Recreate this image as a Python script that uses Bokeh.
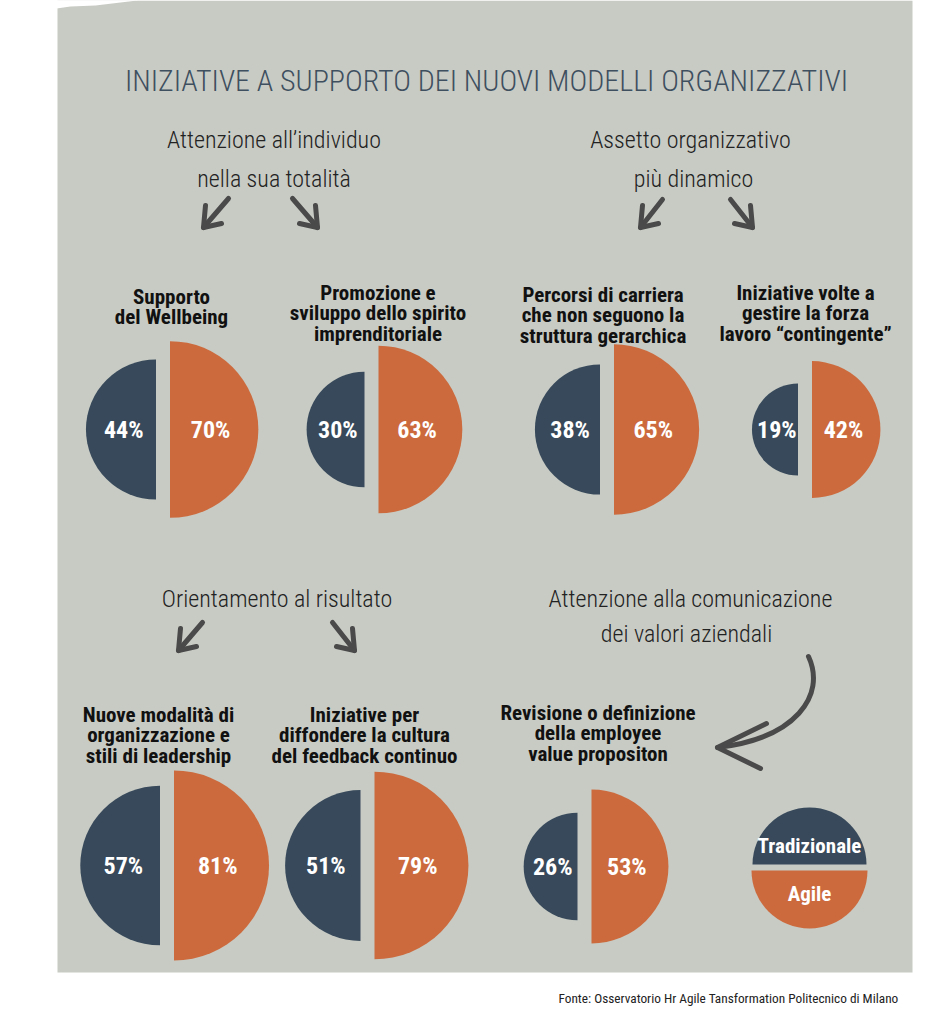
import numpy as np
from bokeh.plotting import figure
from bokeh.models import Range1d, ColumnDataSource
from bokeh.core.properties import value
from bokeh.embed import file_html
from bokeh.resources import INLINE

# ---------------- DATA ----------------
chart_title = "INIZIATIVE A SUPPORTO DEI NUOVI MODELLI ORGANIZZATIVI"
source_note = "Fonte: Osservatorio Hr Agile Tansformation Politecnico di Milano"
series_names = ["Tradizionale", "Agile"]
tradizionale = [44, 30, 38, 19, 57, 51, 26]
agile = [70, 63, 65, 42, 81, 79, 53]
item_labels = [
    ["Supporto", "del Wellbeing"],
    ["Promozione e", "sviluppo dello spirito", "imprenditoriale"],
    ["Percorsi di carriera", "che non seguono la", "struttura gerarchica"],
    ["Iniziative volte a", "gestire la forza", "lavoro \u201ccontingente\u201d"],
    ["Nuove modalit\u00e0 di", "organizzazione e", "stili di leadership"],
    ["Iniziative per", "diffondere la cultura", "del feedback continuo"],
    ["Revisione o definizione", "della employee", "value propositon"],
]
group_titles = [
    ["Attenzione all\u2019individuo", "nella sua totalit\u00e0"],
    ["Assetto organizzativo", "pi\u00f9 dinamico"],
    ["Orientamento al risultato"],
    ["Attenzione alla comunicazione", "dei valori aziendali"],
]

# ---------------- LAYOUT / STYLE ----------------
BG = "#c8cbc4"
NAVY = "#37495a"
ORANGE = "#cc6a3d"
ARROW = "#4a4a4a"
THIN_FONT = "Roboto Condensed Light, Roboto Condensed"
BOLD_FONT = "Roboto Condensed"

cx = [162.5, 371, 606.5, 804.5, 166.5, 367, 584]
cy = [429, 429, 429, 429, 865, 865, 866]
lab_x = [171, 377.5, 602.5, 805, 158, 364, 597.5]
lab_y0 = [296, 292, 294, 292, 714, 714, 712]
LAB_STEP = 20.5
K = 10.56       # radius = K * sqrt(value): area proportional to value
HALF_GAP = 7

grp_x = [[273.5, 273.5], [690, 693], [276.5], [690, 686]]
grp_y = [[139, 178], [139, 178], [598], [598, 633]]

p = figure(width=928, height=1008, x_range=Range1d(0, 928), y_range=Range1d(1008, 0),
           output_backend="svg", toolbar_location=None, min_border=0)
p.axis.visible = False
p.grid.visible = False
p.outline_line_color = None
p.background_fill_color = "white"
p.border_fill_color = "white"

# grey panel with torn top-left corner
p.quad(left=57, right=912, top=0, bottom=972, fill_color=BG, line_color=None)
p.patch(x=[56, 56, 70, 95, 120, 137, 137], y=[-1, 8, 6, 5, 2, 0, -1],
        fill_color="white", line_color=None)

# title
p.text(x=[486], y=[80], text=[chart_title], text_font=value(THIN_FONT),
       text_font_size="30px", text_color="#3e4f5f", text_align="center",
       text_baseline="alphabetic")

# group headings
for lines, xs, ys in zip(group_titles, grp_x, grp_y):
    p.text(x=xs, y=ys, text=lines, text_font=value(THIN_FONT), text_font_size="24px",
           text_color="#222222", text_align="center", text_baseline="alphabetic")

# half discs
r_t = K * np.sqrt(np.array(tradizionale, dtype=float))
r_a = K * np.sqrt(np.array(agile, dtype=float))
cxa = np.array(cx, dtype=float)
src_t = ColumnDataSource(dict(x=cxa - HALF_GAP, y=cy, r=r_t,
                              lab=[f"{v}%" for v in tradizionale],
                              lx=cxa - HALF_GAP - 0.46 * r_t))
src_a = ColumnDataSource(dict(x=cxa + HALF_GAP, y=cy, r=r_a,
                              lab=[f"{v}%" for v in agile],
                              lx=cxa + HALF_GAP + 0.46 * r_a))
p.wedge(x="x", y="y", radius="r", start_angle=np.pi / 2, end_angle=3 * np.pi / 2,
        fill_color=NAVY, line_color=None, source=src_t)
p.wedge(x="x", y="y", radius="r", start_angle=-np.pi / 2, end_angle=np.pi / 2,
        fill_color=ORANGE, line_color=None, source=src_a)
for src in (src_t, src_a):
    p.text(x="lx", y="y", text="lab", source=src, text_font=value(BOLD_FONT),
           text_font_style="bold", text_font_size="24px", text_color="white",
           text_align="center", text_baseline="middle")

# item labels
for lines, x, y0 in zip(item_labels, lab_x, lab_y0):
    p.text(x=[x] * len(lines), y=[y0 + i * LAB_STEP for i in range(len(lines))], text=lines,
           text_font=value(BOLD_FONT), text_font_style="bold", text_font_size="21px",
           text_color="#111111", text_align="center", text_baseline="alphabetic")

# straight arrows (tail -> tip)
arrows = [((228, 198), (203, 227), -1), ((292, 198), (317, 227), 1),
          ((662, 199), (640, 227), -1), ((730, 199), (752, 227), 1),
          ((202, 622), (178, 650), -1), ((332, 622), (354, 650), 1)]
xs, ys = [], []
for (tx, ty), (hx, hy), d in arrows:
    xs.append([tx, hx]); ys.append([ty, hy])
    xs.append([hx - 2 * d, hx, hx - 18 * d]); ys.append([hy - 22, hy, hy - 4])
p.multi_line(xs=xs, ys=ys, line_color=ARROW, line_width=5, line_cap="round", line_join="round")

# curved arrow
p.bezier(x0=[808], y0=[656], x1=[717], y1=[747], cx0=[826], cy0=[695], cx1=[795], cy1=[738],
         line_color=ARROW, line_width=5, line_cap="round")
p.multi_line(xs=[[766, 717, 760]], ys=[[723, 747, 768]], line_color=ARROW, line_width=5,
             line_cap="round", line_join="round")

# legend disc
p.wedge(x=[809], y=[864], radius=57, start_angle=0, end_angle=np.pi,
        fill_color=NAVY, line_color=None)
p.wedge(x=[809], y=[870], radius=58, start_angle=np.pi, end_angle=2 * np.pi,
        fill_color=ORANGE, line_color=None)
p.text(x=[809, 809], y=[845, 893], text=series_names, text_font=value(BOLD_FONT),
       text_font_style="bold", text_font_size="21px", text_color="white",
       text_align="center", text_baseline="middle")

# source
p.text(x=[898], y=[998], text=[source_note], text_font=value(BOLD_FONT),
       text_font_size="13.3px", text_color="#222222", text_align="right",
       text_baseline="alphabetic")

open("out.html", "w").write(file_html(p, INLINE))
